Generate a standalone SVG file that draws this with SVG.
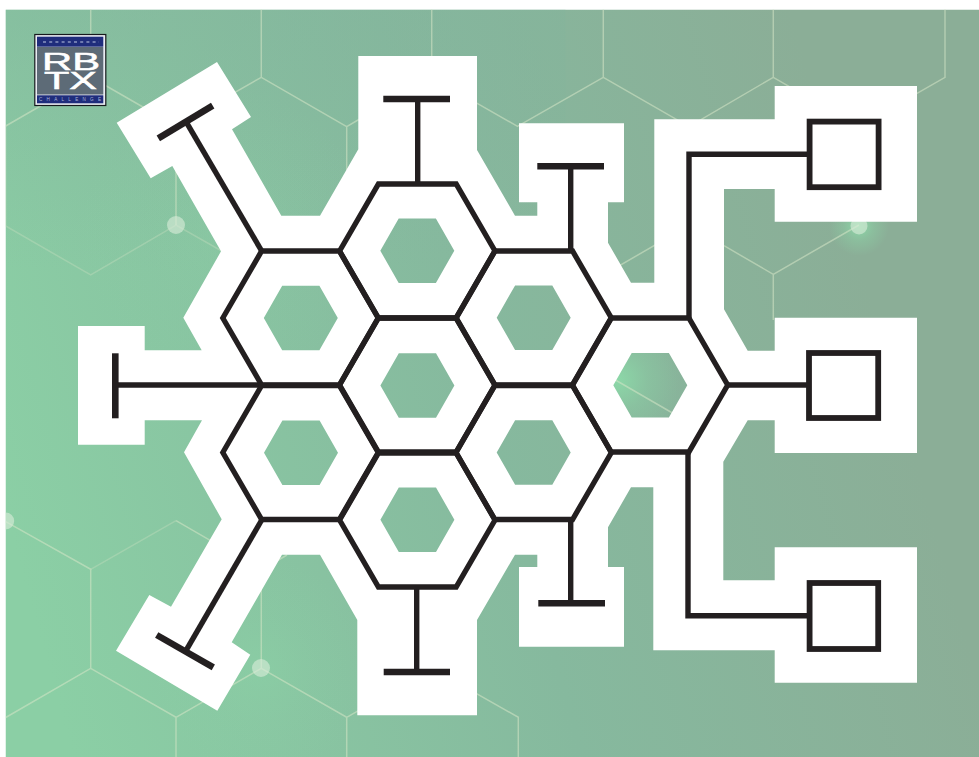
<svg xmlns="http://www.w3.org/2000/svg" xmlns:xlink="http://www.w3.org/1999/xlink" width="979" height="757" viewBox="0 0 979 757">
<defs>
<linearGradient id="bg" gradientUnits="userSpaceOnUse" x1="40" y1="640" x2="900" y2="400">
<stop offset="0" stop-color="#8bcfa5"/>
<stop offset="0.55" stop-color="#86b99e"/>
<stop offset="1" stop-color="#8bae97"/>
</linearGradient>
<radialGradient id="glow">
<stop offset="0" stop-color="#8cd8a8" stop-opacity="1"/>
<stop offset="0.5" stop-color="#8cd4a6" stop-opacity="0.4"/>
<stop offset="1" stop-color="#8cd4a6" stop-opacity="0"/>
</radialGradient>
<linearGradient id="topfade" x1="0" y1="0" x2="0" y2="1">
<stop offset="0" stop-color="#83b49c" stop-opacity=".45"/>
<stop offset="1" stop-color="#83b49c" stop-opacity="0"/>
</linearGradient>
<polygon id="hex" points="-77.7,0 -38.85,-67 38.85,-67 77.7,0 38.85,67 -38.85,67"/>
<clipPath id="bgclip"><rect x="5.5" y="9.5" width="973.5" height="747.5"/></clipPath>
</defs>
<style>
.lat{fill:none;stroke:#d6e6c6;stroke-opacity:.55;stroke-width:1.5}
.dot{fill:#d8ebd8;fill-opacity:.62}
.ln{fill:none;stroke:#231f20;stroke-width:5.4;stroke-linejoin:miter}
.cap{fill:none;stroke:#231f20;stroke-width:6.6}
.sq{fill:#fff;stroke:#231f20;stroke-width:5.8}
.hx{fill:none;stroke:#231f20;stroke-width:5.3;stroke-linejoin:miter}
.lg{font-family:"Liberation Sans",Arial,sans-serif;fill:#fff;stroke:#fff;stroke-width:.5}
</style>
<rect width="979" height="757" fill="#fff"/>
<g id="background" clip-path="url(#bgclip)">
<rect x="5.5" y="9.5" width="973.5" height="747.5" fill="url(#bg)"/>
<rect x="5.5" y="9.5" width="560" height="260" fill="url(#topfade)"/>
<circle cx="225" cy="235" r="150" fill="url(#glow)" opacity=".22"/>
<circle cx="859" cy="226" r="30" fill="url(#glow)"/>
<circle cx="617" cy="380" r="62" fill="url(#glow)"/>
<circle cx="261" cy="668" r="110" fill="url(#glow)" opacity=".35"/>
<path class="lat" d="M90.7,9V77L5.7,126M90.7,77L176,126V225M261.3,9V77.3L346.7,126.7L358,120M346.7,126.7V170M261.3,77.3L176,126M431.7,9V77.3L518,126.7M431.7,77.3L346.7,126.7M603.3,9V77.3L517,126.7M603.3,77.3L689,126.7M773.3,9V77.3L689,126.7M773.3,77.3L859,126.7M945,9V77.3L859,126.7M724,245.7L773.3,274.3L859,225M773.3,274.3V320M603.3,275L688,226M603.3,373L688,422M5.7,521.7L90.7,569.3V668.3L5.7,717.5M90.7,668.3L176,717.3V757M176,717.3L261.3,668.3L346.7,717.3V757M346.7,717.3L432,668.3L518.3,717.3V757M176,520.7L261.3,570V668.3M261.3,570L287,555"/>
<path class="lat" stroke-opacity=".3" style="stroke-opacity:.3" d="M5.7,126V226L90.7,275L176,225L221.7,251M90.7,569.3L176,520.7"/>
<circle class="dot" cx="176" cy="225" r="9"/>
<circle class="dot" cx="859" cy="226" r="8.5"/>
<circle class="dot" cx="261" cy="668" r="9"/>
<circle class="dot" cx="5.7" cy="521" r="8.5"/>
</g>
<path id="board" fill="#fff" fill-rule="evenodd" d="M116.7,122.7L217,62L251,117L232,129.3L281.3,215.7H320L358.3,149.3V56H477V150L515,215.7H537.3V202.3H519V123.3H624V202.3H608V242.7L631,282.7H654.3V119.3H774.7V86H917V221.7H774.7V189H724V309.3L747.7,350.7H774.7V317.7H917V453H774.7V420.3H747.7L723.3,461.7V580.3H774.7V547.3H917V682.7H774.7V650.3H653.3V487.3H631L608,527.3V567H624V646.7H519V567H537.3V554.7H515L477,620V715.3H357.3V620L320,554.7H282L231.7,642.3L250.3,654.7L217.3,710.7L116,650.7L149.3,595L171,606.7L221.7,519.3L184,452.3L202,420.3H144.7V444.7H78V326H144.7V350.3H201.7L183.3,317.7L221,251.3L172.3,166L150.7,178.3Z
M263.8,318l18.4,-32.3h37.2l18.4,32.3l-18.4,32.3h-37.2z
M380.3,250.7l18.4,-32.3h37.2l18.4,32.3l-18.4,32.3h-37.2z
M380.4,385.5l18.4,-32.3h37.2l18.4,32.3l-18.4,32.3h-37.2z
M496.7,317.7l18.4,-32.3h37.2l18.4,32.3l-18.4,32.3h-37.2z
M496.7,452.5l18.4,-32.3h37.2l18.4,32.3l-18.4,32.3h-37.2z
M613.3,385.2l18.4,-32.3h37.2l18.4,32.3l-18.4,32.3h-37.2z
M264,452.7l18.4,-32.3h37.2l18.4,32.3l-18.4,32.3h-37.2z
M380.4,519.8l18.4,-32.3h37.2l18.4,32.3l-18.4,32.3h-37.2z"/>
<g id="connectors">
<path class="ln" d="M261.7,251L186,121.7"/>
<path class="cap" d="M158.3,138.3L212.7,105.7"/>
<path class="ln" d="M417.7,184V99"/>
<path class="cap" d="M383.3,99H450"/>
<path class="ln" d="M570.7,251V166"/>
<path class="cap" d="M537.3,166.3H604"/>
<path class="ln" d="M689,318V154.3H807"/>
<path class="ln" d="M727,385H807"/>
<path class="ln" d="M688,452V615.7H807"/>
<path class="ln" d="M570.7,520V603"/>
<path class="cap" d="M538.3,603.3H605"/>
<path class="ln" d="M416.7,587V672"/>
<path class="cap" d="M383.7,672H450"/>
<path class="ln" d="M261.7,520L186.7,649.3"/>
<path class="cap" d="M156.7,635L213.3,667.3"/>
<path class="ln" d="M262,385H115"/>
<path class="cap" d="M115.3,353.3V418.3"/>
</g>
<g id="hex-upper-left"><use href="#hex" class="hx" x="300.5" y="318"/></g>
<g id="hex-top"><use href="#hex" class="hx" x="417.3" y="251"/></g>
<g id="hex-center"><use href="#hex" class="hx" x="417.3" y="385"/></g>
<g id="hex-upper-right"><use href="#hex" class="hx" x="533.7" y="318"/></g>
<g id="hex-lower-right"><use href="#hex" class="hx" x="533.7" y="452.5"/></g>
<g id="hex-right"><use href="#hex" class="hx" x="650" y="385"/></g>
<g id="hex-lower-left"><use href="#hex" class="hx" x="300.5" y="452.5"/></g>
<g id="hex-bottom"><use href="#hex" class="hx" x="417.3" y="520"/></g>
<g id="square-top"><rect class="sq" x="809.6" y="121.6" width="69" height="65.6"/></g>
<g id="square-middle"><rect class="sq" x="809" y="353" width="69.2" height="65"/></g>
<g id="square-bottom"><rect class="sq" x="809.6" y="583" width="68.6" height="66"/></g>
<g id="logo">
<rect x="34.8" y="34.5" width="71" height="71" fill="#e9ebf2" stroke="#16191d" stroke-width="1.2"/>
<rect x="37" y="47" width="66.3" height="47.5" fill="#5d6b77"/>
<rect x="37" y="36.7" width="66.3" height="10" fill="#1f2d7c"/>
<rect x="37" y="95.3" width="66.3" height="8" fill="#1f2d7c"/>
<line x1="43" x2="99" y1="42" y2="42" stroke="#6f7bb0" stroke-width="2" stroke-dasharray="3 3.2"/>
<text class="lg" x="42" y="70" font-size="23" textLength="58" lengthAdjust="spacingAndGlyphs">RB</text>
<text class="lg" x="44" y="88.6" font-size="23.5" textLength="53" lengthAdjust="spacingAndGlyphs">TX</text>
<text x="39" y="100.8" font-size="4.6" font-family="'Liberation Sans',Arial,sans-serif" fill="#aab4d8" textLength="62" lengthAdjust="spacing">CHALLENGE</text>
</g>
</svg>
